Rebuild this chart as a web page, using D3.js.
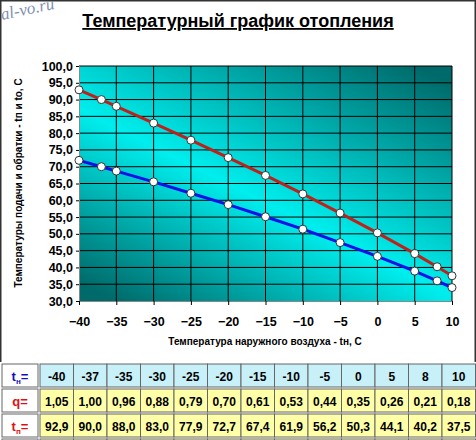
<!DOCTYPE html>
<html><head><meta charset="utf-8">
<script src="https://cdn.jsdelivr.net/npm/d3@7"></script>
<style>body{margin:0;background:#fff}svg{font-family:Arial,"Liberation Sans",sans-serif}</style>
</head><body><svg width="476" height="440"></svg>
<script>
const tOut = [-40, -37, -35, -30, -25, -20, -15, -10, -5, 0, 5, 8, 10];
const qLoad = ["1,05","1,00","0,96","0,88","0,79","0,70","0,61","0,53","0,44","0,35","0,26","0,21","0,18"];
const tSupply = [92.9, 90.0, 88.0, 83.0, 77.9, 72.7, 67.4, 61.9, 56.2, 50.3, 44.1, 40.2, 37.5];
const tReturn = [71.9, 70.0, 68.7, 65.5, 62.1, 58.7, 55.1, 51.4, 47.4, 43.3, 38.9, 36.0, 34.0];
const xTicks = [-40, -35, -30, -25, -20, -15, -10, -5, 0, 5, 10];

const svg = d3.select("svg");
const fmt = (v) => v.toFixed(1).replace(".", ",");

//frame
svg.append("rect").attr("x", 0.5).attr("y", 0.5).attr("width", 475).attr("height", 460)
  .attr("fill", "none").attr("stroke", "#333").attr("stroke-width", 2);

//title
svg.append("text").attr("x", 238).attr("y", 27).attr("text-anchor", "middle")
  .attr("font-size", 18).attr("font-weight", "bold").attr("text-decoration", "underline")
  .text("Температурный график отопления");
svg.append("text").attr("x", 2).attr("y", 20).attr("font-family", "Liberation Serif")
  .attr("font-style", "italic").attr("font-size", 17).attr("fill", "#7f90b0")
  .attr("transform", "rotate(-12,2,20)").text("al-vo.ru");

//scales
const x = d3.scaleLinear().domain([-40, 10]).range([79, 452]);
const y = d3.scaleLinear().domain([30, 100]).range([301, 66]);

const defs = svg.append("defs");
const grad = defs.append("linearGradient").attr("id", "bg")
  .attr("x1", 0.1).attr("y1", 1).attr("x2", 0.9).attr("y2", 0);
grad.append("stop").attr("offset", 0).attr("stop-color", "#006a6a");
grad.append("stop").attr("offset", 0.45).attr("stop-color", "#00eeee");
grad.append("stop").attr("offset", 1).attr("stop-color", "#006a6a");

svg.append("rect").attr("x", x(-40)).attr("y", y(100))
  .attr("width", x(10) - x(-40)).attr("height", y(30) - y(100)).attr("fill", "url(#bg)");

//grid
svg.append("g").selectAll("line").data(d3.range(35, 101, 5)).enter().append("line")
  .attr("x1", x(-40)).attr("x2", x(10)).attr("y1", (d) => y(d)).attr("y2", (d) => y(d))
  .attr("stroke", "#000").attr("stroke-width", 1);
svg.append("g").selectAll("line").data(xTicks.slice(1)).enter().append("line")
  .attr("y1", y(30)).attr("y2", y(100)).attr("x1", (d) => x(d)).attr("x2", (d) => x(d))
  .attr("stroke", "#000").attr("stroke-width", 1);

//axes
const yAxis = svg.append("g").attr("transform", `translate(${x(-40)},0)`)
  .call(d3.axisLeft(y).tickValues(d3.range(30, 101, 5)).tickFormat(fmt).tickSize(3));
const xAxis = svg.append("g").attr("transform", `translate(0,${y(30)})`)
  .call(d3.axisBottom(x).tickValues(xTicks).tickSize(4));
[yAxis, xAxis].forEach((a) => {
  a.selectAll("text").attr("font-size", 12.5).attr("font-weight", "bold").attr("fill", "#000");
  a.select(".domain").attr("stroke", "#888");
});
xAxis.selectAll("text").attr("dy", "1.4em");

svg.append("text").attr("x", 265).attr("y", 345).attr("text-anchor", "middle")
  .attr("font-size", 10).attr("font-weight", "bold").text("Температура наружного воздуха - tн, С");
svg.append("text").attr("transform", "translate(22,183) rotate(-90)").attr("text-anchor", "middle")
  .attr("font-size", 10).attr("font-weight", "bold").text("Температуры подачи и обратки - tп и to, С");

//lines
const line = d3.line().x((d, i) => x(tOut[i])).y((d) => y(d));
[[tSupply, "#c0201a"], [tReturn, "#1010e8"]].forEach(([vals, col]) => {
  svg.append("path").datum(vals).attr("d", line).attr("fill", "none")
    .attr("stroke", col).attr("stroke-width", 3);
  svg.append("g").selectAll("circle").data(vals).enter().append("circle")
    .attr("cx", (d, i) => x(tOut[i])).attr("cy", (d) => y(d)).attr("r", 4)
    .attr("fill", "#fff").attr("stroke", "#333");
});

//table
const rowsY = [364, 389, 414, 439];
const colX = (i) => 40 + i * 33.5;
const rows = [
  { label: "t", sub: "н", col: "#1010c0", bg: "#c8f0f8", vals: tOut.map(String) },
  { label: "q", sub: "", col: "#e01010", bg: "#ffffa8", vals: qLoad },
  { label: "t", sub: "п", col: "#e01010", bg: "#ffffa8", vals: tSupply.map(fmt) },
  { label: "t", sub: "о", col: "#1010c0", bg: "#ffffa8", vals: tReturn.map(fmt) }
];
svg.append("rect").attr("x", 0).attr("y", rowsY[0] - 2).attr("width", 476).attr("height", 80).attr("fill", "#fff");
rows.forEach((r, ri) => {
  const g = svg.append("g");
  g.append("rect").attr("x", 2).attr("y", rowsY[ri]).attr("width", 36).attr("height", 23)
    .attr("fill", "#fff").attr("stroke", "#666");
  const lt = g.append("text").attr("x", 20).attr("y", rowsY[ri] + 17).attr("text-anchor", "middle")
    .attr("font-size", 13).attr("font-weight", "bold").attr("fill", r.col).text(r.label);
  if (r.sub) lt.append("tspan").attr("font-size", 8).attr("dy", 3).text(r.sub);
  lt.append("tspan").attr("dy", r.sub ? -3 : 0).text("=");
  g.selectAll("rect.c").data(r.vals).enter().append("rect").attr("class", "c")
    .attr("x", (d, i) => colX(i)).attr("y", rowsY[ri]).attr("width", 33.5).attr("height", 23)
    .attr("fill", r.bg).attr("stroke", "#666");
  g.selectAll("text.c").data(r.vals).enter().append("text").attr("class", "c")
    .attr("x", (d, i) => colX(i) + 16.75).attr("y", rowsY[ri] + 17).attr("text-anchor", "middle")
    .attr("font-size", 12).attr("font-weight", "bold").text((d) => d);
});
</script></body></html>
